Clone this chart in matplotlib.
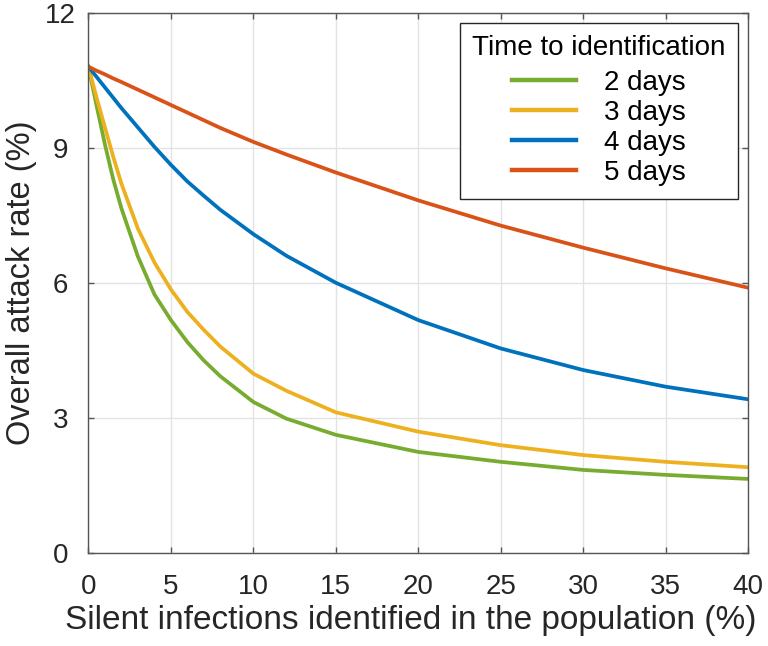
import matplotlib
matplotlib.use('Agg')
import matplotlib.pyplot as plt

# Datos
silent = [0, 0.5, 1, 1.5, 2, 3, 4, 5, 6, 7, 8, 10, 12, 15, 20, 25, 30, 35, 40]
days2 = [10.8, 9.92, 9.07, 8.3, 7.65, 6.58, 5.74, 5.17, 4.68, 4.27, 3.92, 3.35, 2.98, 2.62, 2.24, 2.02, 1.84, 1.73, 1.64]
days3 = [10.8, 10.1, 9.45, 8.8, 8.2, 7.2, 6.45, 5.85, 5.35, 4.95, 4.58, 3.98, 3.6, 3.12, 2.69, 2.39, 2.17, 2.02, 1.90]
days4 = [10.8, 10.57, 10.34, 10.11, 9.88, 9.45, 9.02, 8.62, 8.25, 7.93, 7.62, 7.08, 6.6, 6.0, 5.17, 4.54, 4.06, 3.69, 3.41]
days5 = [10.8, 10.71, 10.63, 10.54, 10.46, 10.29, 10.12, 9.95, 9.78, 9.61, 9.44, 9.13, 8.85, 8.45, 7.83, 7.27, 6.78, 6.32, 5.89]
labels = ['2 days', '3 days', '4 days', '5 days']

plt.rcParams['font.family'] = ['Liberation Sans', 'DejaVu Sans']

fig = plt.figure(figsize=(7.68, 6.46), dpi=100)
ax = fig.add_axes([0.1152, 0.1444, 0.8587, 0.8359])

ax.plot(silent, days2, color='#77AC30', lw=2.7, label=labels[0])
ax.plot(silent, days3, color='#EDB120', lw=2.7, label=labels[1])
ax.plot(silent, days4, color='#0072BD', lw=2.7, label=labels[2])
ax.plot(silent, days5, color='#D95319', lw=2.7, label=labels[3])

ax.set_xlim(0, 40)
ax.set_ylim(0, 12)
ax.set_xticks(range(0, 41, 5))
ax.set_yticks([0, 3, 6, 9, 12])
ax.grid(True, color='#e3e3e3', lw=1)
ax.set_axisbelow(True)
ax.tick_params(direction='in', top=True, right=True, length=4, width=1,
               color='#555555', labelsize=20, labelcolor='#262626')
ax.tick_params(axis='x', pad=15)
ax.tick_params(axis='y', pad=20)
for t in ax.get_yticklabels():
    t.set_horizontalalignment('center')
for s in ax.spines.values():
    s.set_color('#555555')
    s.set_linewidth(1)

ax.set_xlabel('Silent infections identified in the population (%)', fontsize=24, color='#262626')
ax.xaxis.set_label_coords(0.488, -0.125, transform=ax.transAxes)
ax.xaxis.label.set_verticalalignment('center')
ax.set_ylabel('Overall attack rate (%)', fontsize=23.5, color='#262626', labelpad=6)

leg = ax.legend(title='Time to identification', loc='upper right', fontsize=20,
                title_fontsize=20, handlelength=2.3, handletextpad=1.0,
                labelspacing=0.15, borderaxespad=0.36, borderpad=0.45, fancybox=False,
                framealpha=1, edgecolor='#262626')
leg._legend_box.sep = 6
leg.get_frame().set_linewidth(1)
for l in leg.get_lines():
    l.set_linewidth(3.2)

plt.savefig('out.png', dpi=100)
